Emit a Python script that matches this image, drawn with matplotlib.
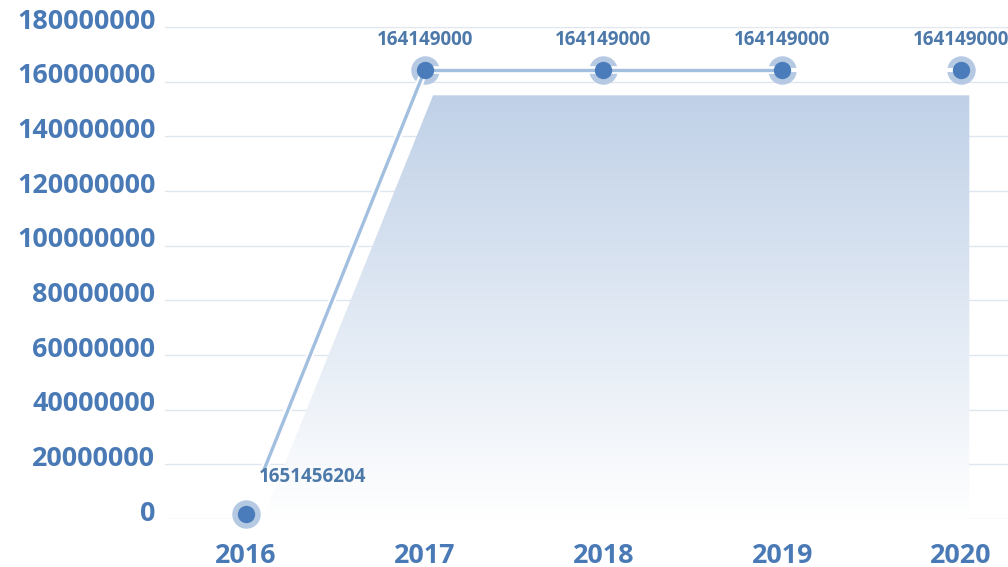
import numpy as np
import matplotlib
matplotlib.use("Agg")
import matplotlib.pyplot as plt
import matplotlib.patheffects as pe
from matplotlib.transforms import ScaledTranslation
from matplotlib.colors import LinearSegmentedColormap

years = [2016, 2017, 2018, 2019, 2020]
values = [1651456.204, 164149000, 164149000, 164149000, 164149000]
yticks = np.arange(0, 180000001, 20000000)


def value_text(v):
    # the point labels are printed without a decimal point
    return str(v).replace(".", "")


plt.rcParams['font.family'] = ['Open Sans', 'DejaVu Sans']
axis_blue = '#4a7ab6'
label_blue = '#4d79aa'
line_blue = '#a3bfe0'

fig = plt.figure(figsize=(10.08, 5.67), dpi=100)
ax = fig.add_axes([165/1008, 48/567, 843/1008, 492/567])

# shadow area under the line, shifted right/down, with a vertical gradient
off = ScaledTranslation(6/72, -18/72, fig.dpi_scale_trans)
poly = ax.fill_between(years, values, 0, facecolor='none', edgecolor='none',
                       transform=ax.transData + off)
cmap = LinearSegmentedColormap.from_list('shade', ['#ffffff', '#bccee6'])
grad = np.linspace(0, 1, 256).reshape(-1, 1)
xl = (2015.547, 2020.263)
im = ax.imshow(grad, extent=[xl[0], xl[1], 0, max(values)], origin='lower',
               aspect='auto', cmap=cmap, zorder=1)
im.set_clip_path(poly.get_paths()[0], ax.transData + off)

# halos behind the points
ax.plot(years, values, 'o', ms=20.5, color='#b5c9e3', mec='none', zorder=3, clip_on=False)

stroke = [pe.Stroke(linewidth=5.5, foreground='white'), pe.Normal()]
ax.plot(years[1:4], values[1:4], color=line_blue, lw=2.4, zorder=4,
        solid_capstyle='butt', path_effects=stroke)
ax.plot(years[3:], values[3:], color='white', lw=3, zorder=4)
ax.annotate('', xy=(years[1], values[1]), xytext=(years[0], values[0]),
            arrowprops=dict(arrowstyle='-', color=line_blue, lw=2.4,
                            shrinkA=34, shrinkB=0, path_effects=stroke),
            zorder=4)

# points
ax.plot(years, values, 'o', ms=12.5, color='#4a7bbb', mec='none', zorder=5, clip_on=False)

for i, (x, v) in enumerate(zip(years, values)):
    if i == 0:
        ax.annotate(value_text(v), (x, v), xytext=(9, 27), textcoords='offset points',
                    ha='left', va='center', fontsize=13.5, fontweight='bold',
                    color=label_blue, zorder=6)
    else:
        ax.annotate(value_text(v), (x, v), xytext=(0, 22), textcoords='offset points',
                    ha='center', va='center', fontsize=13.5, fontweight='bold',
                    color=label_blue, zorder=6)

ax.set_xlim(*xl)
ax.set_ylim(0, 180000000)
ax.set_xticks(years)
ax.set_xticklabels([str(y) for y in years])
ax.set_yticks(yticks)
ax.set_yticklabels([str(t) for t in yticks])

ax.grid(axis='y', color='#dfe6f0', lw=1)
ax.grid(axis='x', visible=False)
ax.set_axisbelow(True)
for s in ax.spines.values():
    s.set_visible(False)

ax.tick_params(axis='x', length=0, pad=17, labelsize=19.4, labelcolor=axis_blue)
ax.tick_params(axis='y', length=0, pad=7, labelsize=19.4, labelcolor=axis_blue)
for lab in ax.get_xticklabels() + ax.get_yticklabels():
    lab.set_fontweight('bold')
for lab in ax.get_yticklabels():
    lab.set_transform(lab.get_transform() + ScaledTranslation(0, 6/72, fig.dpi_scale_trans))

fig.savefig('out.png', dpi=100)
